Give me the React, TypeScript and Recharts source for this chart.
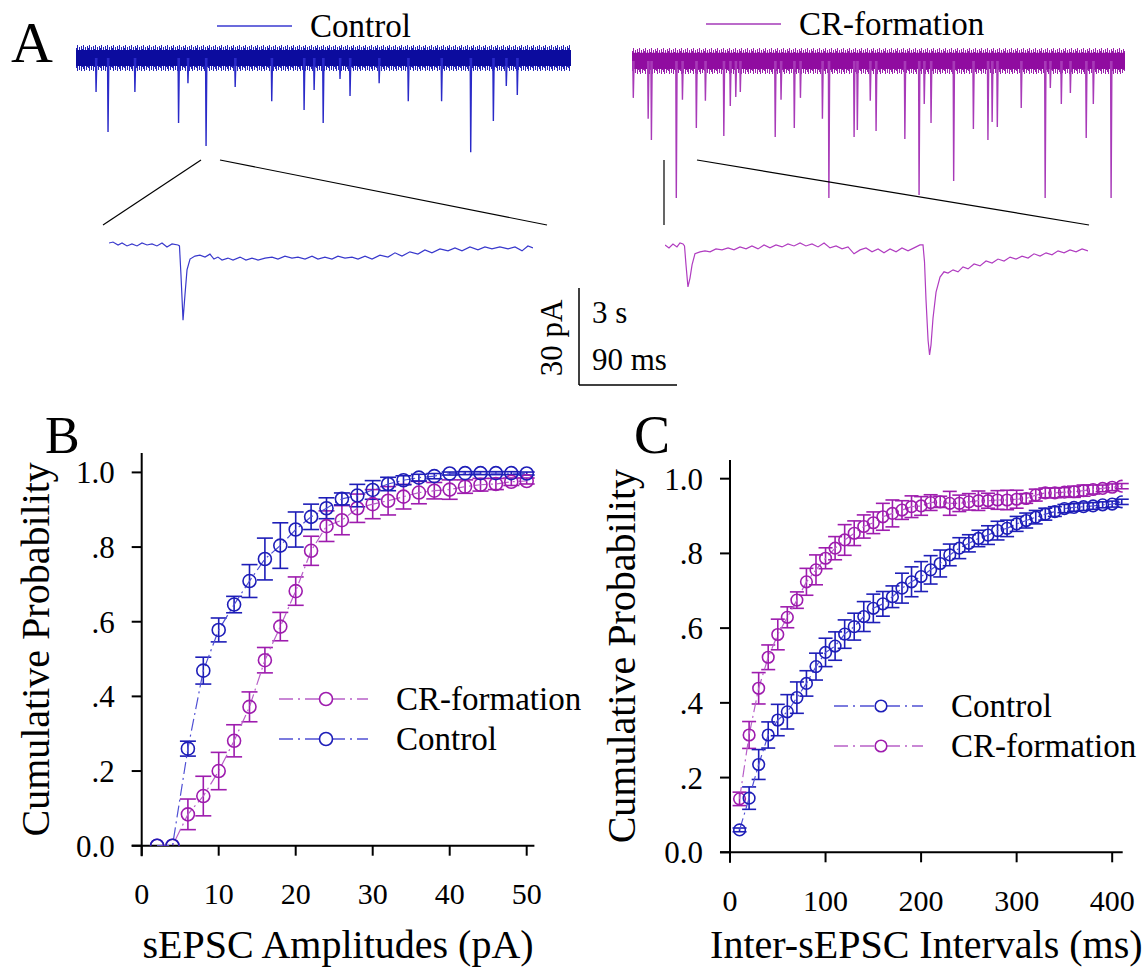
import React from "react";
import {
  ComposedChart,
  LineChart,
  Line,
  XAxis,
  YAxis,
  ErrorBar,
  ReferenceLine,
  ReferenceArea,
  Legend,
  Label,
} from "recharts";

const SERIF = "'Liberation Serif', 'Times New Roman', serif";
const BLUE = "#1e1eb8";
const BLUE_LINE = "#5050d4";
const PURPLE = "#9e1cae";
const PURPLE_LINE = "#b860c8";

// ---- Panel A: spontaneous traces (time in s, amplitude in pA, downward events)
const ctrlSpikeT = [0.62, 0.99, 1.82, 3.17, 3.46, 4.02, 4.92, 6.05, 7.05, 7.36, 7.64, 8.16, 8.47, 9.37, 10.27, 11.3, 12.2, 12.9, 13.3, 13.64];
const ctrlSpikeAmp = [10.4, 22.6, 10.4, 19.9, 7.7, 26.9, 8.9, 13.2, 15.9, 9.8, 19.9, 6.4, 11.6, 7.7, 13.2, 13.2, 28.8, 19.3, 8.6, 11.3];

const crSpikeT = [0.04, 0.5, 0.6, 1.37, 1.56, 1.99, 2.27, 2.84, 3.04, 3.21, 3.35, 4.43, 4.61, 5.02, 5.21, 5.89, 6.09, 6.87, 6.97, 7.37, 7.55, 8.44, 8.88, 9.04, 9.25, 9.95, 10.56, 11.01, 11.14, 11.3, 12.04, 12.78, 12.94, 13.28, 13.56, 14.05, 14.27, 14.82];
const crSpikeAmp = [11.3, 17.7, 24.2, 41.9, 11.9, 20.5, 12.2, 23, 13.8, 11, 9.5, 23.3, 11.9, 20.5, 11.3, 17.7, 41.9, 23.3, 21.1, 12.2, 21.4, 23.9, 41, 13.2, 19, 36.7, 20.8, 24.2, 18.7, 20.2, 14.4, 41.9, 8.3, 13.2, 9.8, 23.6, 13.2, 41.9];

// expanded single events, [ms, pA]
const zoomCtrl: [number, number][] = [
  [0, 0.6], [3.7, 0.9], [8.4, 0], [12.1, 0.6], [16.7, -0.3], [21.3, 0.3], [26, -0.3], [30.6, 0.6],
  [35.3, 0], [39.9, 0.3], [44.5, -0.3], [49.2, 0.6], [53.8, -0.6], [58.5, 0.3], [64, 0], [65.4, -0.3],
  [66.8, -9.2], [68.7, -23], [70.5, -15.3], [72.4, -7.6], [75.2, -4.3], [79.8, -3.4], [84.4, -3.1],
  [89.1, -3.7], [93.7, -2.8], [97.4, -4.3], [101.1, -3.7], [104.9, -4.6], [110.4, -4], [115.1, -4.6],
  [121.6, -3.7], [127.1, -4.6], [132.7, -4], [138.3, -4.6], [144.8, -4], [151.3, -3.7], [156.8, -4.3],
  [163.3, -3.4], [169.8, -4], [175.4, -3.7], [181.9, -4.3], [188.4, -3.4], [193.9, -4.3], [200.4, -3.7],
  [206.9, -4.3], [212.5, -3.4], [219, -4], [225.5, -3.7], [231.1, -4.3], [237.6, -3.4], [244.1, -4.3],
  [251.5, -3.1], [258.9, -3.7], [265.4, -2.4], [271.9, -3.4], [279.3, -2.1], [286.7, -2.8], [293.2, -1.5],
  [299.7, -2.4], [307.2, -1.2], [314.6, -1.8], [321.1, -0.9], [327.6, -1.8], [335, -0.6], [342.4, -1.5],
  [348.9, -0.6], [355.4, -1.2], [362.8, -0.6], [370.3, -1.2], [376.8, -0.6], [383.3, -1.8], [388.8, -0.3],
  [393.5, -0.9],
];

const zoomCr: [number, number][] = [
  [0, 0.6], [3.7, -0.3], [7.4, 0.9], [11.1, 0], [13.9, 1.2], [16.7, 0.9], [18.1, 0.3], [19.5, -5.5],
  [21.3, -12.2], [23.2, -9.5], [25.1, -5.5], [27.8, -2.1], [32.5, -1.5], [37.1, -1.2], [41.8, -1.5],
  [47.3, -0.6], [52.9, -0.9], [58.5, -0.3], [64, -0.9], [69.6, 0], [75.2, -0.6], [80.7, 0.3], [86.3, -0.6],
  [91.9, 0.6], [97.4, -0.3], [103, 0.6], [108.6, 0], [114.1, 0.9], [119.7, 0.3], [125.3, 1.2], [130.8, 0.3],
  [136.4, 0.9], [142, 0], [147.6, 1.2], [153.1, -0.3], [158.7, 0.3], [164.3, -0.6], [169.8, 0], [175.4, -2.1],
  [181, -0.9], [186.5, -0.3], [192.1, -1.5], [197.7, -0.6], [203.2, -1.8], [208.8, -0.6], [214.4, -1.5],
  [219.9, -0.3], [225.5, -1.2], [231.1, -0.3], [236.6, 0.6], [239.4, 0.6], [240.8, -4.6], [242.2, -16.2],
  [244.1, -28.5], [245.5, -33], [246.8, -30], [248.7, -21.7], [251.5, -13.8], [255.2, -9.2], [258.9, -7.6],
  [262.6, -8], [267.3, -7], [271.9, -7.6], [276.5, -6.1], [281.2, -6.7], [286.8, -5.2], [292.3, -5.8],
  [297.9, -4.3], [303.5, -4.9], [309, -3.7], [314.6, -4.3], [320.2, -3.1], [325.7, -3.7], [331.3, -2.8],
  [336.9, -3.4], [342.4, -2.1], [348, -2.8], [353.6, -1.8], [359.1, -2.4], [364.7, -1.2], [370.3, -1.8],
  [375.8, -0.9], [381.4, -1.5], [387, -0.6], [392.5, -1.2],
];

// ---- Panel B: amplitude cumulative probability
const ampBins = [2, 4, 6, 8, 10, 12, 14, 16, 18, 20, 22, 24, 26, 28, 30, 32, 34, 36, 38, 40, 42, 44, 46, 48, 50];
const ctrlAmp = [0, 0, 0.26, 0.469, 0.578, 0.646, 0.709, 0.768, 0.804, 0.847, 0.881, 0.904, 0.929, 0.938, 0.953, 0.969, 0.979, 0.986, 0.99, 0.997, 0.998, 0.998, 0.998, 0.998, 0.997];
const ctrlAmpErr = [0, 0, 0.02, 0.036, 0.032, 0.022, 0.044, 0.056, 0.061, 0.047, 0.034, 0.028, 0.016, 0.03, 0.025, 0.018, 0.012, 0.009, 0.007, 0.004, 0.004, 0.004, 0.004, 0.004, 0.004];
const crAmp = [0, 0, 0.084, 0.133, 0.2, 0.281, 0.372, 0.497, 0.587, 0.682, 0.79, 0.856, 0.872, 0.904, 0.915, 0.924, 0.935, 0.946, 0.951, 0.954, 0.962, 0.967, 0.969, 0.975, 0.977];
const crAmpErr = [0, 0, 0.041, 0.053, 0.05, 0.043, 0.04, 0.034, 0.038, 0.038, 0.039, 0.041, 0.039, 0.038, 0.039, 0.038, 0.033, 0.03, 0.022, 0.026, 0.018, 0.017, 0.015, 0.01, 0.008];

// ---- Panel C: inter-event interval cumulative probability
const intBins = [10, 20, 30, 40, 50, 60, 70, 80, 90, 100, 110, 120, 130, 140, 150, 160, 170, 180, 190, 200, 210, 220, 230, 240, 250, 260, 270, 280, 290, 300, 310, 320, 330, 340, 350, 360, 370, 380, 390, 400, 410];
const ctrlInt = [0.06, 0.145, 0.235, 0.314, 0.354, 0.376, 0.414, 0.452, 0.497, 0.535, 0.552, 0.584, 0.604, 0.631, 0.653, 0.665, 0.684, 0.707, 0.724, 0.738, 0.756, 0.773, 0.796, 0.814, 0.827, 0.84, 0.849, 0.861, 0.867, 0.879, 0.888, 0.897, 0.905, 0.912, 0.92, 0.923, 0.925, 0.927, 0.93, 0.932, 0.938];
const ctrlIntErr = [0.005, 0.03, 0.04, 0.035, 0.042, 0.046, 0.042, 0.034, 0.036, 0.038, 0.038, 0.038, 0.036, 0.04, 0.038, 0.033, 0.029, 0.04, 0.04, 0.04, 0.038, 0.036, 0.029, 0.028, 0.023, 0.022, 0.025, 0.025, 0.022, 0.02, 0.02, 0.018, 0.016, 0.013, 0.011, 0.01, 0.01, 0.009, 0.008, 0.008, 0.007];
const crInt = [0.143, 0.314, 0.439, 0.522, 0.583, 0.629, 0.675, 0.724, 0.756, 0.787, 0.814, 0.836, 0.854, 0.872, 0.882, 0.898, 0.907, 0.916, 0.925, 0.927, 0.936, 0.938, 0.934, 0.934, 0.938, 0.941, 0.941, 0.943, 0.943, 0.945, 0.947, 0.956, 0.962, 0.962, 0.964, 0.965, 0.968, 0.971, 0.974, 0.977, 0.98];
const crIntErr = [0.018, 0.036, 0.042, 0.033, 0.041, 0.028, 0.022, 0.036, 0.04, 0.028, 0.031, 0.041, 0.033, 0.031, 0.029, 0.036, 0.036, 0.025, 0.029, 0.025, 0.021, 0.015, 0.032, 0.022, 0.022, 0.026, 0.02, 0.025, 0.026, 0.024, 0.013, 0.016, 0.013, 0.013, 0.012, 0.015, 0.015, 0.012, 0.009, 0.009, 0.007];

const probTicks = [0, 0.2, 0.4, 0.6, 0.8, 1.0];
const ampTicks = [0, 10, 20, 30, 40, 50];
const intTicks = [0, 100, 200, 300, 400];

type SeriesDef = { key: string; err: string; name: string; dot: string; line: string };
const ctrlSeries: SeriesDef = { key: "ctrl", err: "ctrlErr", name: "Control", dot: BLUE, line: BLUE_LINE };
const crSeries: SeriesDef = { key: "cr", err: "crErr", name: "CR-formation", dot: PURPLE, line: PURPLE_LINE };

const ampRows = ampBins.map((x, i) => ({ x, ctrl: ctrlAmp[i], ctrlErr: ctrlAmpErr[i], cr: crAmp[i], crErr: crAmpErr[i] }));
const intRows = intBins.map((x, i) => ({ x, ctrl: ctrlInt[i], ctrlErr: ctrlIntErr[i], cr: crInt[i], crErr: crIntErr[i] }));

// each event is its own short segment, broken by a null so no baseline is drawn
function spikeTrace(times: number[], amps: number[]) {
  const pts: { t: number; v: number | null }[] = [];
  times.forEach((t, i) => {
    pts.push({ t: t - 0.015, v: 0 }, { t, v: -amps[i] }, { t: t + 0.025, v: 0 }, { t: t + 0.03, v: null });
  });
  return pts;
}

const probLabel = (v: number) => (v === 0 ? "0.0" : v === 1 ? "1.0" : `.${Math.round(v * 10)}`);

// jagged look for the noise band of the long recordings
const noiseTops = [3, 0, 5, 2, 7, 1, 4, 0, 6, 2, 5, 1];
const noiseBottoms = [23, 26, 21, 25, 19, 26, 22, 24, 26, 20, 25, 22];

function NoisePattern({ id, color, y }: { id: string; color: string; y: number }) {
  return (
    <pattern id={id} patternUnits="userSpaceOnUse" x={0} y={y} width={12} height={26}>
      {noiseTops.map((t, i) => (
        <line key={i} x1={i + 0.5} x2={i + 0.5} y1={t} y2={noiseBottoms[i]} stroke={color} strokeWidth={1} />
      ))}
    </pattern>
  );
}

function TracePanel(props: {
  data: { t: number; v: number | null }[];
  left: number; top: number; width: number; height: number;
  xMax: number; yDomain: [number, number];
  color: string; band?: { color: string; half: number; patternId: string }; sw: number;
}) {
  const { data, left, top, width, height, xMax, yDomain, color, band, sw } = props;
  return (
    <div style={{ position: "absolute", left, top }}>
      <LineChart width={width} height={height} data={data} margin={{ top: 0, right: 0, bottom: 0, left: 0 }}>
        <XAxis type="number" dataKey="t" domain={[0, xMax]} hide allowDataOverflow />
        <YAxis type="number" domain={yDomain} hide allowDataOverflow />
        {band && (
          <ReferenceArea x1={0} x2={xMax} y1={-band.half} y2={band.half} fill={`url(#${band.patternId})`} fillOpacity={1} stroke="none" ifOverflow="visible" />
        )}
        {band && (
          <ReferenceArea x1={0} x2={xMax} y1={-band.half * 0.62} y2={band.half * 0.62} fill={band.color} fillOpacity={1} stroke="none" ifOverflow="visible" />
        )}
        <Line dataKey="v" type="linear" stroke={color} strokeWidth={sw} dot={false} isAnimationActive={false} />
      </LineChart>
    </div>
  );
}

function CumPanel(props: {
  rows: any[]; left: number; top: number; width: number; height: number;
  marginTop: number; marginRight: number; yAxisWidth: number; xAxisHeight: number;
  xMax: number; yMax: number; xTicks: number[]; xAxisStart: number;
  dotR: number; capW: number; xTitle: string; yTitleOffset: number;
  legendOrder: SeriesDef[]; legendLeft: number; legendTop: number;
}) {
  const p = props;
  const tickStyle = { fontSize: 30, fill: "#000", fontFamily: SERIF };
  const legend = () => (
    <svg width={330} height={90} style={{ overflow: "visible" }}>
      {p.legendOrder.map((s, i) => (
        <g key={s.key} transform={`translate(0, ${i * 40 + 15})`}>
          <line x1={0} x2={89} y1={0} y2={0} stroke={s.line} strokeWidth={1.5} strokeDasharray="14 5 2 5" />
          <circle cx={47} cy={0} r={p.dotR} fill="#fff" stroke={s.dot} strokeWidth={1.6} />
          <text x={117} y={11} fontSize={33} fontFamily={SERIF} fill="#000">{s.name}</text>
        </g>
      ))}
    </svg>
  );
  return (
    <div style={{ position: "absolute", left: p.left, top: p.top }}>
      <ComposedChart
        width={p.width}
        height={p.height}
        data={p.rows}
        margin={{ top: p.marginTop, right: p.marginRight, bottom: 16, left: 0 }}
      >
        <XAxis
          type="number"
          dataKey="x"
          domain={[0, p.xMax]}
          ticks={p.xTicks}
          interval={0}
          axisLine={false}
          tickLine={{ stroke: "#000", strokeWidth: 2 }}
          tickSize={10}
          tickMargin={27}
          height={p.xAxisHeight}
          tick={tickStyle}
          allowDataOverflow
        >
          <Label value={p.xTitle} position="insideBottom" offset={2} style={{ fontSize: 40, fill: "#000", fontFamily: SERIF }} />
        </XAxis>
        <YAxis
          type="number"
          domain={[0, p.yMax]}
          ticks={probTicks}
          interval={0}
          tickFormatter={probLabel}
          axisLine={false}
          tickLine={{ stroke: "#000", strokeWidth: 2 }}
          tickSize={10}
          tickMargin={17}
          width={p.yAxisWidth}
          tick={{ ...tickStyle, fontSize: 31 }}
          allowDataOverflow
        >
          <Label
            value="Cumulative Probability"
            angle={-90}
            position="insideLeft"
            offset={p.yTitleOffset}
            style={{ textAnchor: "middle", fontSize: 40, fill: "#000", fontFamily: SERIF }}
          />
        </YAxis>
        <ReferenceLine segment={[{ x: p.xAxisStart, y: 0 }, { x: p.xMax, y: 0 }]} stroke="#000" strokeWidth={2} ifOverflow="visible" />
        <ReferenceLine segment={[{ x: 0, y: -0.028 }, { x: 0, y: p.yMax }]} stroke="#000" strokeWidth={2} ifOverflow="visible" />
        {[crSeries, ctrlSeries].map((s) => (
          <Line
            key={s.key}
            dataKey={s.key}
            name={s.name}
            type="linear"
            stroke={s.line}
            strokeWidth={1.2}
            strokeDasharray="12 4 2 4"
            dot={{ r: p.dotR, fill: "none", stroke: s.dot, strokeWidth: 1.6, strokeDasharray: "none" }}
            isAnimationActive={false}
          >
            <ErrorBar dataKey={s.err} width={p.capW} stroke={s.dot} strokeWidth={1.6} direction="y" isAnimationActive={false} />
          </Line>
        ))}
        <Legend
          layout="vertical"
          align="center"
          verticalAlign="middle"
          content={legend}
          wrapperStyle={{ left: p.legendLeft, top: p.legendTop, width: 330, height: 90 }}
        />
      </ComposedChart>
    </div>
  );
}

export default function App() {
  const ctrlTrace = spikeTrace(ctrlSpikeT, ctrlSpikeAmp);
  const crTrace = spikeTrace(crSpikeT, crSpikeAmp);
  const ctrlZoom = zoomCtrl.map(([t, v]) => ({ t, v }));
  const crZoom = zoomCr.map(([t, v]) => ({ t, v }));
  return (
    <div style={{ position: "absolute", left: 0, top: 0, width: 1144, height: 976, background: "#fff", overflow: "hidden" }}>
      <svg width={0} height={0} style={{ position: "absolute" }}>
        <defs>
          <NoisePattern id="noiseBlue" color="#2424b4" y={5} />
          <NoisePattern id="noisePurple" color="#9a22ac" y={8} />
        </defs>
      </svg>
      <TracePanel data={ctrlTrace} left={76} top={40} width={495} height={120} xMax={15.3} yDomain={[-31.2, 5.5]} color="#2a2ac8" band={{ color: "#0c0c9e", half: 3.98, patternId: "noiseBlue" }} sw={1.4} />
      <TracePanel data={crTrace} left={632} top={40} width={493} height={170} xMax={15.25} yDomain={[-45.6, 6.4]} color="#a83ab8" band={{ color: "#900ca0", half: 3.98, patternId: "noisePurple" }} sw={1.4} />
      <TracePanel data={ctrlZoom} left={109} top={225} width={424} height={110} xMax={393.5} yDomain={[-27.5, 6.1]} color="#3838cc" sw={1.2} />
      <TracePanel data={crZoom} left={665} top={225} width={423} height={145} xMax={392.5} yDomain={[-37.6, 6.7]} color="#b03cc0" sw={1.2} />

      <CumPanel
        rows={ampRows}
        left={0} top={400} width={560} height={576}
        marginTop={53} marginRight={25.6} yAxisWidth={141.7} xAxisHeight={114.3}
        xMax={51} yMax={1.052} xTicks={ampTicks} xAxisStart={-1.3}
        dotR={6.5} capW={8} xTitle="sEPSC Amplitudes (pA)" yTitleOffset={35}
        legendOrder={[crSeries, ctrlSeries]} legendLeft={279} legendTop={284}
      />
      <CumPanel
        rows={intRows}
        left={570} top={400} width={574} height={576}
        marginTop={60} marginRight={21.3} yAxisWidth={160} xAxisHeight={107.7}
        xMax={411} yMax={1.05} xTicks={intTicks} xAxisStart={-10.5}
        dotR={5.8} capW={7} xTitle="Inter-sEPSC Intervals (ms)" yTitleOffset={51}
        legendOrder={[ctrlSeries, crSeries]} legendLeft={264} legendTop={291}
      />

      <svg width={1144} height={976} style={{ position: "absolute", left: 0, top: 0, pointerEvents: "none" }}>
        <g fontFamily={SERIF} fill="#000">
          <text x={11} y={62} fontSize={58}>A</text>
          <text x={45} y={453} fontSize={52}>B</text>
          <text x={634} y={453} fontSize={54}>C</text>
          <text x={310} y={37} fontSize={33}>Control</text>
          <text x={799} y={35} fontSize={33}>CR-formation</text>
          <text x={592} y={323} fontSize={31}>3 s</text>
          <text x={592} y={370} fontSize={31}>90 ms</text>
          <text x={562} y={338} fontSize={31} textAnchor="middle" transform="rotate(-90, 562, 338)">30 pA</text>
        </g>
        <line x1={217} y1={26} x2={292} y2={26} stroke="#3a3ad0" strokeWidth={1.5} />
        <line x1={706} y1={24} x2={781} y2={24} stroke="#a43ab8" strokeWidth={1.5} />
        <g stroke="#000" strokeWidth={1.2}>
          <line x1={103} y1={225} x2={201} y2={160} />
          <line x1={220} y1={160} x2={547} y2={225} />
          <line x1={664} y1={160} x2={664} y2={225} />
          <line x1={697} y1={160} x2={1089} y2={225} />
        </g>
        <g stroke="#000" strokeWidth={1.5}>
          <line x1={579} y1={288} x2={579} y2={385} />
          <line x1={579} y1={385} x2={677} y2={385} />
        </g>
      </svg>
    </div>
  );
}
